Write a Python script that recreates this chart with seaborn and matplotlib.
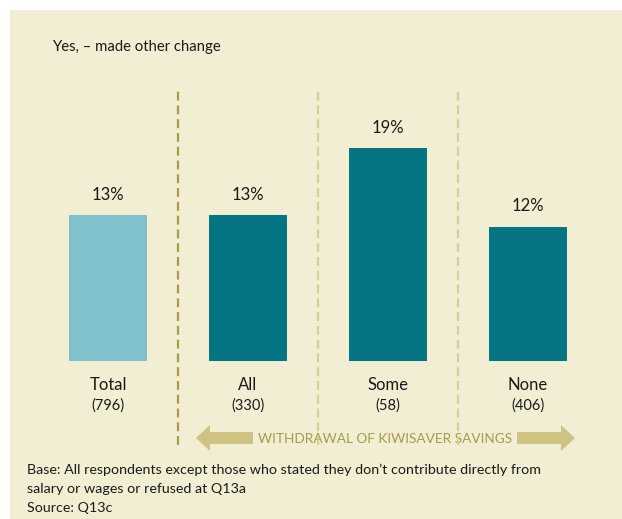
import matplotlib
matplotlib.use('Agg')
import matplotlib.pyplot as plt
import seaborn as sns
import pandas as pd
from matplotlib.patches import FancyArrow, Rectangle

categories = ['Total', 'All', 'Some', 'None']
bases = ['(796)', '(330)', '(58)', '(406)']
values = [13, 13, 19, 12]
colors = ['#80C2CC', '#057482', '#057482', '#057482']

title = 'Yes, \u2013 made other change'
footnote = ['Base: All respondents except those who stated they don\u2019t contribute directly from',
            'salary or wages or refused at Q13a',
            'Source: Q13c']
arrow_text = 'WITHDRAWAL OF KIWISAVER SAVINGS'

bg = '#F2EED3'
W, H = 622, 519

sns.set_style('white')
plt.rcParams['font.family'] = ['Lato', 'DejaVu Sans']

fig = plt.figure(figsize=(W / 100, H / 100), dpi=100)
fig.patch.set_facecolor('white')

# full-figure overlay in pixel units for decoration
ov = fig.add_axes([0, 0, 1, 1])
ov.set_xlim(0, W)
ov.set_ylim(H, 0)
ov.axis('off')
ov.add_patch(Rectangle((10, 10), W - 10, H - 10, facecolor=bg, edgecolor='none'))

# main bar axes: bars from y=361 px (0) with 11.2 px per percent
x0, x1 = 38, 598
ybot, ytop = 361, 90
ax = fig.add_axes([x0 / W, (H - ybot) / H, (x1 - x0) / W, (ybot - ytop) / H])
ax.patch.set_alpha(0)
df = pd.DataFrame({'cat': categories, 'val': values})
sns.barplot(data=df, x='cat', y='val', hue='cat', palette=colors, legend=False,
            width=0.557, saturation=1, linewidth=0, ax=ax)
ax.set_xlim(-0.5, 3.5)
ax.set_ylim(0, (ybot - ytop) / 11.2)
ax.axis('off')

for i, v in enumerate(values):
    ax.annotate(f'{v}%', (i, v), xytext=(0, 9), textcoords='offset points',
                ha='center', va='bottom', fontsize=12, color='#1a1a1a')
    ax.annotate(categories[i], (i, 0), xytext=(0, -17), textcoords='offset points',
                ha='center', va='center', fontsize=12, color='#1a1a1a',
                annotation_clip=False)
    ax.annotate(bases[i], (i, 0), xytext=(0, -32), textcoords='offset points',
                ha='center', va='center', fontsize=10.5, color='#1a1a1a',
                annotation_clip=False)

lo = -(445 - ybot) / (ybot - ytop)
for k, xv in enumerate([0.5, 1.5, 2.5]):
    ax.axvline(xv, ymin=lo, ymax=1, clip_on=False,
               color='#A99A4C' if k == 0 else '#D9CE94',
               linewidth=1.6, linestyle=(0, (4, 2.2)))

# double arrow with text
acol = '#CFC384'
ov.add_patch(FancyArrow(253, 438, -57, 0, width=12, head_width=26, head_length=14,
                        length_includes_head=True, color=acol, linewidth=0))
ov.add_patch(FancyArrow(517, 438, 58, 0, width=12, head_width=26, head_length=14,
                        length_includes_head=True, color=acol, linewidth=0))
ov.text(385, 439, arrow_text, ha='center', va='center', fontsize=9.8, color='#A89A4A')

ov.text(52, 47, title, ha='left', va='center', fontsize=10.7, color='#1a1a1a')
for j, line in enumerate(footnote):
    ov.text(27, 470 + j * 19, line, ha='left', va='center', fontsize=10.3, color='#1a1a1a')

fig.savefig('out.png', dpi=100, facecolor='white')
